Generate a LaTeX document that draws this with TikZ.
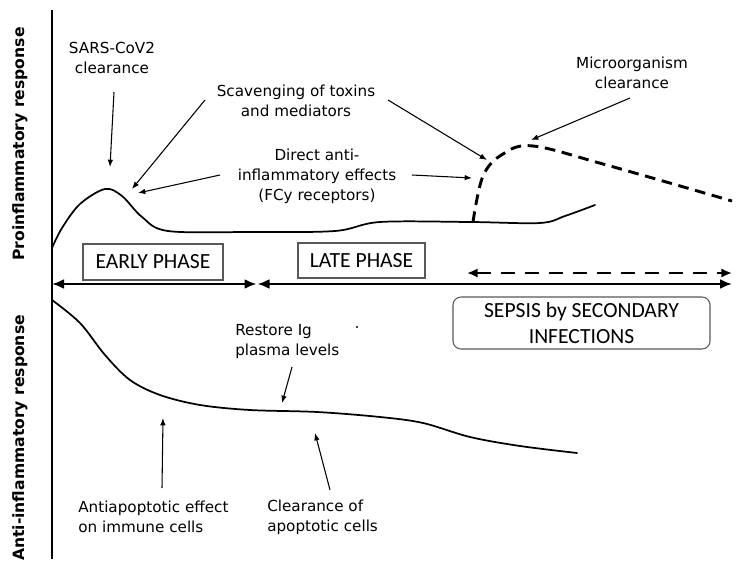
\documentclass[tikz,border=0pt]{standalone}
\usepackage{fontspec}
\setmainfont{DejaVu Sans}
\newfontfamily\boxfont{Carlito}
\usetikzlibrary{arrows.meta}
\tikzset{
  ann/.style={font=\fontsize{11.4}{15}\selectfont, align=center, inner sep=0pt},
  annl/.style={font=\fontsize{11.4}{15}\selectfont, align=left, inner sep=0pt},
  axlab/.style={font=\fontsize{11.7}{14}\selectfont\bfseries, rotate=90, inner sep=0pt},
  phasebox/.style={draw=black!65, line width=0.8pt, font=\boxfont\fontsize{16.2}{19.5}\selectfont, align=center, inner sep=0pt},
  annarrow/.style={line width=0.8pt, -{Latex[length=5.5pt,width=4.2pt]}},
  curve/.style={line width=1.3pt, line cap=round, line join=round},
  dcurve/.style={line width=2.2pt, dash pattern=on 8pt off 5pt},
  timearrow/.style={line width=1.7pt, {Latex[length=9pt,width=7.5pt]}-{Latex[length=9pt,width=7.5pt]}},
}
\begin{document}
\begin{tikzpicture}[x=0.75pt,y=-0.75pt]
\useasboundingbox (0,0) rectangle (746,577);
\fill[white] (0,0) rectangle (746,577);

% axes
\coordinate (axtop) at (52,10);
\coordinate (axbot) at (52,559);
\draw[line width=1.6pt] (axtop) -- (axbot);

\node[axlab] (prolab) at (20,144) {Proinflammatory response};
\node[axlab] (antilab) at (20,438) {Anti-inflammatory response};

% time arrows
\coordinate (t0) at (52,284);
\coordinate (t1) at (256.5,284);
\coordinate (t2) at (257.5,284);
\coordinate (t3) at (732,284);
\draw[timearrow] (t0) -- (t1);
\draw[timearrow] (t2) -- (t3);
\coordinate (d0) at (467,273);
\coordinate (d1) at (732,273);
\draw[line width=2.2pt, dash pattern=on 11pt off 7pt, {Latex[length=8pt,width=7pt]}-{Latex[length=8pt,width=7pt]}] (d0) -- (d1);

% boxes
\node[phasebox, minimum width=140*0.75pt, minimum height=36*0.75pt] (early) at (153,262) {EARLY PHASE};
\node[phasebox, minimum width=127*0.75pt, minimum height=35*0.75pt] (late) at (361.5,260.5) {LATE PHASE};
\node[phasebox, rounded corners=6pt, minimum width=257*0.75pt, minimum height=52*0.75pt] (sepsis) at (581.5,323) {SEPSIS by SECONDARY\\INFECTIONS};

% proinflammatory curve
\draw[curve] plot[smooth, tension=0.55] coordinates {(52,248) (62,228) (80,204) (105,189) (122,196) (142,217) (168,231) (250,232) (335,231) (380,222) (470,222) (540,223) (565,216) (595,205)};
% dashed curve
\draw[dcurve] plot[smooth, tension=0.6] coordinates {(473,222) (483,176) (503,154) (533,146) (603,164) (732,201)};

% anti-inflammatory curve
\draw[curve] plot[smooth, tension=0.55] coordinates {(52,300) (80,323) (105,355) (130,380) (160,395) (200,405) (250,410) (317,412) (380,417) (423,423) (470,437) (520,446) (577,453)};

% stray dot
\fill (357,327) circle (0.9pt);

% labels
\node[ann] (sars) at (112,57.5) {SARS-CoV2\\clearance};
\node[ann] (scav) at (296,101) {Scavenging of toxins\\and mediators};
\node[ann] (direct) at (317,176) {Direct anti-\\inflammatory effects\\(FCy receptors)};
\node[ann] (micro) at (632,73) {Microorganism\\clearance};
\node[annl, anchor=west] (restore) at (235,342) {Restore Ig\\plasma levels};
\node[annl, anchor=west] (antiapo) at (78,517) {Antiapoptotic effect\\on immune cells};
\node[annl, anchor=west] (clear) at (267,517) {Clearance of\\apoptotic cells};

% annotation arrows
\coordinate (sarsS) at (114,92);   \coordinate (sarsT) at (110,167);
\coordinate (scavS1) at (205,100); \coordinate (scavT1) at (132,189);
\coordinate (scavS2) at (388,100); \coordinate (scavT2) at (487,160);
\coordinate (dirS1) at (220,175);  \coordinate (dirT1) at (138,193);
\coordinate (dirS2) at (412,175);  \coordinate (dirT2) at (472,178);
\coordinate (micS) at (630,98);    \coordinate (micT) at (531,140);
\coordinate (resS) at (292,367);   \coordinate (resT) at (282,403);
\coordinate (apoS) at (162,488);   \coordinate (apoT) at (163,418);
\coordinate (clrS) at (330,490);   \coordinate (clrT) at (315,433);
\draw[annarrow] (sarsS) -- (sarsT);
\draw[annarrow] (scavS1) -- (scavT1);
\draw[annarrow] (scavS2) -- (scavT2);
\draw[annarrow] (dirS1) -- (dirT1);
\draw[annarrow] (dirS2) -- (dirT2);
\draw[annarrow] (micS) -- (micT);
\draw[annarrow] (resS) -- (resT);
\draw[annarrow] (apoS) -- (apoT);
\draw[annarrow] (clrS) -- (clrT);
\end{tikzpicture}
\end{document}
